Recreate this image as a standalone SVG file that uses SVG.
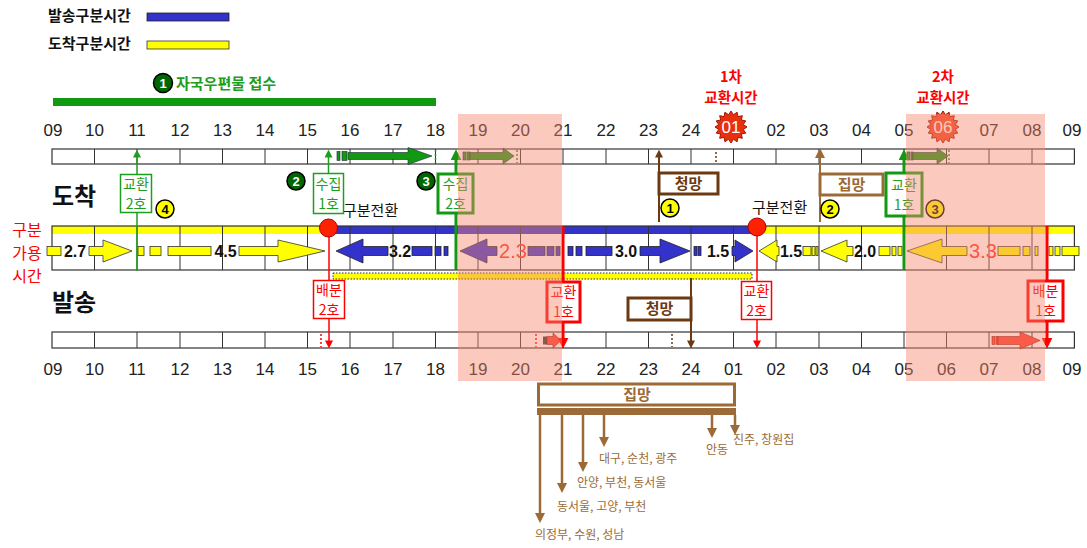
<svg xmlns="http://www.w3.org/2000/svg" xmlns:xlink="http://www.w3.org/1999/xlink" width="1087" height="548" viewBox="0 0 1087 548">
<style>
.hr{font-family:"Liberation Sans",Arial,sans-serif;font-size:17px;fill:#222;text-anchor:middle}
.kr{font-family:"Noto Sans CJK KR","Noto Sans CJK SC",sans-serif}
.num{font-family:"Liberation Sans",Arial,sans-serif;font-size:16px;font-weight:bold;fill:#111;text-anchor:middle}
.numr{font-family:"Liberation Sans",Arial,sans-serif;font-size:20px;fill:#ff2a1a;text-anchor:middle}
.bar{fill:#fff;stroke:#333;stroke-width:1.2}
.tick{stroke:#333;stroke-width:1;fill:none}
.ya{fill:#ffff00;stroke:#333;stroke-width:0.8}
.ba{fill:#3333cc;stroke:#222;stroke-width:0.8}
.ga{fill:#119911;stroke:#224;stroke-width:0.6}
.ra{fill:#ff3a2a;stroke:#700;stroke-width:0.6}
.dotg{stroke:#119911;stroke-width:1.5;stroke-dasharray:2,2}
.dotr{stroke:#ff0000;stroke-width:1.5;stroke-dasharray:2,2}
.dotb{stroke:#6b3a12;stroke-width:1.5;stroke-dasharray:2,2}
.bt{font-family:"Noto Sans CJK KR",sans-serif;font-size:14px;text-anchor:middle}
.bt2{font-family:"Noto Sans CJK KR",sans-serif;font-size:15px;font-weight:bold;text-anchor:middle}
.g{fill:#1e9e1e}
.r{fill:#ff0000}
.boxg{fill:#fff;stroke:#1e9e1e;stroke-width:1.5}
.boxG{fill:#fff;stroke:#119911;stroke-width:3}
.boxr{fill:#fff;stroke:#ff0000;stroke-width:1.5}
.boxR{fill:#fff;stroke:#ff0000;stroke-width:3}
.boxbd{fill:#fff;stroke:#6b3a12;stroke-width:3}
.boxbl{fill:#fff;stroke:#9c6a36;stroke-width:3}
.cg{fill:#006600;stroke:#000;stroke-width:1.5}
.cy{fill:#ffff00;stroke:#000;stroke-width:1.5}
.ct{font-family:"Liberation Sans",Arial,sans-serif;font-size:13px;font-weight:bold;text-anchor:middle}
.dest{font-family:"Noto Sans CJK KR",sans-serif;font-size:12px;fill:#9c6a36}
.ov{fill:#f7876c;opacity:0.45}
</style>
<defs>
<marker id="mGs" viewBox="0 0 10 10" refX="2" refY="5" markerWidth="8" markerHeight="8" orient="auto" markerUnits="userSpaceOnUse"><path d="M0,0 L10,5 L0,10 z" fill="#1e9e1e"/></marker>
<marker id="mGb" viewBox="0 0 10 10" refX="2" refY="5" markerWidth="11" markerHeight="11" orient="auto" markerUnits="userSpaceOnUse"><path d="M0,0 L10,5 L0,10 z" fill="#119911"/></marker>
<marker id="mRs" viewBox="0 0 10 10" refX="2" refY="5" markerWidth="8" markerHeight="8" orient="auto" markerUnits="userSpaceOnUse"><path d="M0,0 L10,5 L0,10 z" fill="#ff0000"/></marker>
<marker id="mRb" viewBox="0 0 10 10" refX="2" refY="5" markerWidth="11" markerHeight="11" orient="auto" markerUnits="userSpaceOnUse"><path d="M0,0 L10,5 L0,10 z" fill="#ff0000"/></marker>
<marker id="mBd" viewBox="0 0 10 10" refX="2" refY="5" markerWidth="8" markerHeight="8" orient="auto" markerUnits="userSpaceOnUse"><path d="M0,0 L10,5 L0,10 z" fill="#6b3a12"/></marker>
<marker id="mBl" viewBox="0 0 10 10" refX="2" refY="5" markerWidth="10" markerHeight="10" orient="auto" markerUnits="userSpaceOnUse"><path d="M0,0 L10,5 L0,10 z" fill="#9c6a36"/></marker>
<polygon id="star" points="16,0 12.26,2.44 14.78,6.12 10.39,6.94 11.31,11.31 6.94,10.39 6.12,14.78 2.44,12.26 0,16 -2.44,12.26 -6.12,14.78 -6.94,10.39 -11.31,11.31 -10.39,6.94 -14.78,6.12 -12.26,2.44 -16,0 -12.26,-2.44 -14.78,-6.12 -10.39,-6.94 -11.31,-11.31 -6.94,-10.39 -6.12,-14.78 -2.44,-12.26 0,-16 2.44,-12.26 6.12,-14.78 6.94,-10.39 11.31,-11.31 10.39,-6.94 14.78,-6.12 12.26,-2.44"/>
</defs>
<rect width="1087" height="548" fill="#fff"/>

<g id="legend">
<text class="kr" x="48" y="21" font-size="15" font-weight="bold" fill="#111">발송구분시간</text>
<rect x="147" y="13" width="82" height="8" class="ba"/>
<text class="kr" x="48" y="49" font-size="15" font-weight="bold" fill="#111">도착구분시간</text>
<rect x="147" y="41" width="82" height="8" class="ya"/>
</g>

<g id="header">
<circle cx="163" cy="83" r="9.5" class="cg"/>
<text class="ct" x="163" y="87.5" fill="#fff">1</text>
<text class="kr" x="176" y="89" font-size="15" font-weight="bold" fill="#1e9e1e">자국우편물 접수</text>
<rect x="53" y="98" width="383" height="8" fill="#119911"/>
</g>

<g id="titles">
<text class="kr" x="52" y="205" font-size="24" font-weight="bold" fill="#111">도착</text>
<text class="kr" x="52" y="311" font-size="24" font-weight="bold" fill="#111">발송</text>
<text class="kr" x="27" y="236" font-size="16" fill="#ff0000" text-anchor="middle">구분</text>
<text class="kr" x="27" y="259" font-size="16" fill="#ff0000" text-anchor="middle">가용</text>
<text class="kr" x="27" y="282" font-size="16" fill="#ff0000" text-anchor="middle">시간</text>
</g>

<g id="exchange-times">
<text class="kr" x="731" y="82" font-size="14.5" font-weight="bold" fill="#ff0000" text-anchor="middle">1차</text>
<text class="kr" x="731" y="103" font-size="14.5" font-weight="bold" fill="#ff0000" text-anchor="middle">교환시간</text>
<text class="kr" x="943" y="82" font-size="14.5" font-weight="bold" fill="#ff0000" text-anchor="middle">2차</text>
<text class="kr" x="943" y="103" font-size="14.5" font-weight="bold" fill="#ff0000" text-anchor="middle">교환시간</text>
<use xlink:href="#star" href="#star" transform="translate(731,127)" fill="#e8300e" stroke="#a01800" stroke-width="1"/>
<text class="hr" x="731" y="133" style="fill:#fff">01</text>
<use xlink:href="#star" href="#star" transform="translate(943,127)" fill="#f04422" stroke="#a01800" stroke-width="1"/>
<text class="hr" x="943" y="133" style="fill:#fff">06</text>
</g>

<g id="axis-top">
<text class="hr" x="53" y="136">09</text><text class="hr" x="94.5" y="136">10</text><text class="hr" x="137" y="136">11</text><text class="hr" x="180" y="136">12</text><text class="hr" x="222.5" y="136">13</text><text class="hr" x="265" y="136">14</text><text class="hr" x="307.5" y="136">15</text><text class="hr" x="350" y="136">16</text><text class="hr" x="393" y="136">17</text><text class="hr" x="435.5" y="136">18</text><text class="hr" x="478" y="136">19</text><text class="hr" x="520.5" y="136">20</text><text class="hr" x="563" y="136">21</text><text class="hr" x="606" y="136">22</text><text class="hr" x="648.5" y="136">23</text><text class="hr" x="691" y="136">24</text><text class="hr" x="776" y="136">02</text><text class="hr" x="819" y="136">03</text><text class="hr" x="861.5" y="136">04</text><text class="hr" x="904" y="136">05</text><text class="hr" x="989" y="136">07</text><text class="hr" x="1032" y="136">08</text><text class="hr" x="1072" y="136">09</text>
<rect x="52" y="149" width="1022.4" height="15" class="bar"/>
<path class="tick" d="M94.5,149V164M137,149V164M180,149V164M222.5,149V164M265,149V164M307.5,149V164M350,149V164M393,149V164M435.5,149V164M478,149V164M520.5,149V164M563,149V164M606,149V164M648.5,149V164M691,149V164M733.5,149V164M776,149V164M819,149V164M861.5,149V164M904,149V164M946.5,149V164M989,149V164M1032,149V164"/>
<rect x="337" y="151.5" width="3" height="9" class="ga"/><rect x="342" y="151.5" width="5" height="9" class="ga"/>
<polygon class="ga" points="348,152.5 408,152.5 408,147.5 432,156 408,164.5 408,159.5 348,159.5"/>
<line class="dotg" x1="435.5" y1="150" x2="435.5" y2="163"/>
<rect x="463" y="152" width="3" height="8" class="ga"/><rect x="467" y="152" width="3" height="8" class="ga"/>
<polygon class="ga" points="470,152.5 503,152.5 503,148 514,156 503,164 503,159.5 470,159.5"/>
<line class="dotg" x1="517" y1="150" x2="517" y2="163"/>
<line class="dotb" x1="716" y1="152" x2="716" y2="163"/>
<rect x="907" y="152" width="3" height="8" class="ga"/><rect x="911" y="152" width="2" height="8" class="ga"/>
<polygon class="ga" points="913,152.5 937,152.5 937,148 948,156 937,164 937,159.5 913,159.5"/>
<line class="dotg" x1="949" y1="150" x2="949" y2="163"/>
</g>

<g id="band">
<rect x="52" y="226" width="1022.4" height="44" fill="#fff"/>
<rect x="52" y="226" width="276" height="8" fill="#ffff00"/>
<rect x="328" y="226" width="429" height="8" fill="#3333cc"/>
<rect x="757" y="226" width="317.4" height="8" fill="#ffff00"/>
<path class="tick" d="M94.5,226V270M137,226V270M180,226V270M222.5,226V270M265,226V270M307.5,226V270M350,226V270M393,226V270M435.5,226V270M478,226V270M520.5,226V270M563,226V270M606,226V270M648.5,226V270M691,226V270M733.5,226V270M776,226V270M819,226V270M861.5,226V270M904,226V270M946.5,226V270M989,226V270M1032,226V270"/>
<rect x="52" y="226" width="1022.4" height="44" fill="none" stroke="#333" stroke-width="1.2"/>
<rect x="47" y="246.5" width="14" height="9" class="ya"/>
<text class="num" x="75" y="257">2.7</text>
<polygon class="ya" points="89,246.5 103,246.5 103,240 132,251 103,262 103,255.5 89,255.5"/>
<rect x="138" y="246.5" width="6" height="9" class="ya"/><rect x="150" y="246.5" width="11" height="9" class="ya"/>
<rect x="168" y="246.5" width="43" height="9" class="ya"/>
<text class="num" x="225.5" y="257">4.5</text>
<polygon class="ya" points="239,246.5 278,246.5 278,240 325,251 278,262 278,255.5 239,255.5"/>
<polygon class="ba" points="336,251 363,239 363,246.5 388,246.5 388,255.5 363,255.5 363,263"/>
<text class="num" x="400" y="257">3.2</text>
<rect x="412" y="246.5" width="20" height="9" class="ba"/><rect x="435" y="246.5" width="6" height="9" class="ba"/><rect x="444" y="246.5" width="4" height="9" class="ba"/>
<polygon class="ba" points="460,251 487,239 487,246.5 497,246.5 497,255.5 487,255.5 487,263"/>
<text class="numr" x="513" y="258">2.3</text>
<rect x="528" y="246.5" width="17" height="9" class="ba"/><rect x="547" y="246.5" width="7" height="9" class="ba"/><rect x="556" y="246.5" width="4" height="9" class="ba"/>
<rect x="568" y="246.5" width="5" height="9" class="ba"/><rect x="576" y="246.5" width="6" height="9" class="ba"/><rect x="586" y="246.5" width="26" height="9" class="ba"/>
<text class="num" x="626" y="257">3.0</text>
<polygon class="ba" points="640,246.5 660,246.5 660,239 690,251 660,263 660,255.5 640,255.5"/>
<rect x="694" y="246.5" width="3" height="9" class="ba"/><rect x="698" y="246.5" width="3" height="9" class="ba"/>
<text class="num" x="718" y="257">1.5</text>
<polygon class="ba" points="732,246.5 735,246.5 735,240 753,251 735,262 735,255.5 732,255.5"/>
<polygon class="ya" points="759,251 777,240 777,246.5 779,246.5 779,255.5 777,255.5 777,262"/>
<text class="num" x="791" y="257">1.5</text>
<rect x="803" y="246.5" width="8" height="9" class="ya"/><rect x="812" y="246.5" width="3" height="9" class="ya"/><rect x="816" y="246.5" width="2" height="9" class="ya"/>
<polygon class="ya" points="821,251 847,240 847,246.5 853,246.5 853,255.5 847,255.5 847,262"/>
<text class="num" x="865" y="257">2.0</text>
<rect x="879" y="246.5" width="11" height="9" class="ya"/><rect x="892" y="246.5" width="4" height="9" class="ya"/><rect x="898" y="246.5" width="4" height="9" class="ya"/>
<polygon class="ya" points="907,251 942,239 942,246.5 967,246.5 967,255.5 942,255.5 942,263"/>
<text class="numr" x="983" y="258">3.3</text>
<rect x="998" y="246.5" width="22" height="9" class="ya"/><rect x="1023" y="246.5" width="7" height="9" class="ya"/><rect x="1035" y="246.5" width="3" height="9" class="ya"/>
<rect x="1049" y="246.5" width="4" height="9" class="ya"/><rect x="1055" y="246.5" width="5" height="9" class="ya"/><rect x="1062" y="246.5" width="17" height="9" class="ya"/>
<rect x="333" y="273" width="419" height="6" fill="#ffff00" stroke="#333" stroke-width="1" stroke-dasharray="1.5,1.5"/>
</g>

<g id="axis-bottom">
<rect x="52" y="332" width="1022.4" height="16" class="bar"/>
<path class="tick" d="M94.5,332V348M137,332V348M180,332V348M222.5,332V348M265,332V348M307.5,332V348M350,332V348M393,332V348M435.5,332V348M478,332V348M520.5,332V348M563,332V348M606,332V348M648.5,332V348M691,332V348M733.5,332V348M776,332V348M819,332V348M861.5,332V348M904,332V348M946.5,332V348M989,332V348M1032,332V348"/>
<line class="dotr" x1="321" y1="334" x2="321" y2="347"/>
<line class="dotr" x1="536" y1="334" x2="536" y2="347"/>
<rect x="543" y="336.5" width="4" height="8" fill="#333"/>
<polygon class="ra" points="547,336.5 553,336.5 553,333 561,340.5 553,348 553,344.5 547,344.5"/>
<line class="dotb" x1="672" y1="334" x2="672" y2="347"/>
<rect x="992" y="336.5" width="3" height="8" class="ra"/><rect x="996" y="336.5" width="2" height="8" class="ra"/>
<polygon class="ra" points="998,336.5 1020,336.5 1020,332 1040,340.5 1020,349 1020,344.5 998,344.5"/>
<text class="hr" x="53" y="375">09</text><text class="hr" x="94.5" y="375">10</text><text class="hr" x="137" y="375">11</text><text class="hr" x="180" y="375">12</text><text class="hr" x="222.5" y="375">13</text><text class="hr" x="265" y="375">14</text><text class="hr" x="307.5" y="375">15</text><text class="hr" x="350" y="375">16</text><text class="hr" x="393" y="375">17</text><text class="hr" x="435.5" y="375">18</text><text class="hr" x="478" y="375">19</text><text class="hr" x="520.5" y="375">20</text><text class="hr" x="563" y="375">21</text><text class="hr" x="606" y="375">22</text><text class="hr" x="648.5" y="375">23</text><text class="hr" x="691" y="375">24</text><text class="hr" x="733.5" y="375">01</text><text class="hr" x="776" y="375">02</text><text class="hr" x="819" y="375">03</text><text class="hr" x="861.5" y="375">04</text><text class="hr" x="904" y="375">05</text><text class="hr" x="946.5" y="375">06</text><text class="hr" x="989" y="375">07</text><text class="hr" x="1032" y="375">08</text><text class="hr" x="1072" y="375">09</text>
</g>

<g id="connectors" fill="none">
<path d="M137,271V156" stroke="#1e9e1e" stroke-width="1.5" marker-end="url(#mGs)"/>
<path d="M328.5,174V156" stroke="#1e9e1e" stroke-width="1.5" marker-end="url(#mGs)"/>
<path d="M456,270V158" stroke="#119911" stroke-width="3" marker-end="url(#mGb)"/>
<path d="M659,222V156" stroke="#6b3a12" stroke-width="2" marker-end="url(#mBd)"/>
<path d="M820,222V156" stroke="#9c6a36" stroke-width="2" marker-end="url(#mBl)"/>
<path d="M904,270V158" stroke="#119911" stroke-width="3" marker-end="url(#mGb)"/>
<path d="M329,236V342" stroke="#ff0000" stroke-width="1.5" marker-end="url(#mRs)"/>
<path d="M563,226V340" stroke="#ff0000" stroke-width="3" marker-end="url(#mRb)"/>
<path d="M691,278V342" stroke="#6b3a12" stroke-width="2" marker-end="url(#mBd)"/>
<path d="M757,236V342" stroke="#ff0000" stroke-width="1.5" marker-end="url(#mRs)"/>
<path d="M1047,226V340" stroke="#ff0000" stroke-width="3" marker-end="url(#mRb)"/>
<path d="M540,415V515" stroke="#9c6a36" stroke-width="2.5" marker-end="url(#mBl)"/>
<path d="M562,415V485" stroke="#9c6a36" stroke-width="2.5" marker-end="url(#mBl)"/>
<path d="M583,415V464" stroke="#9c6a36" stroke-width="2.5" marker-end="url(#mBl)"/>
<path d="M604,415V439" stroke="#9c6a36" stroke-width="2.5" marker-end="url(#mBl)"/>
<path d="M712,415V430" stroke="#9c6a36" stroke-width="2.5" marker-end="url(#mBl)"/>
<path d="M735,415V427" stroke="#9c6a36" stroke-width="2.5" marker-end="url(#mBl)"/>
</g>

<g id="switch-points">
<circle cx="328.5" cy="228" r="9" fill="#ff2200" stroke="#a00" stroke-width="1"/>
<circle cx="757" cy="227" r="9" fill="#ff2200" stroke="#a00" stroke-width="1"/>
<text class="kr" x="343" y="216" font-size="15" fill="#111">구분전환</text>
<text class="kr" x="752" y="213" font-size="15" fill="#111">구분전환</text>
</g>

<g id="node-exchange2-in">
<rect class="boxg" x="120.5" y="174.5" width="31" height="38"/>
<text class="bt g" x="136" y="188.5">교환</text><text class="bt g" x="136" y="209">2호</text>
<circle cx="165" cy="209" r="9" class="cy"/><text class="ct" x="165" y="213.5" fill="#000">4</text>
</g>
<g id="node-collect1">
<rect class="boxg" x="313.5" y="173.5" width="30" height="40"/>
<text class="bt g" x="328.5" y="188.5">수집</text><text class="bt g" x="328.5" y="209">1호</text>
<circle cx="296" cy="181" r="9" class="cg"/><text class="ct" x="296" y="185.5" fill="#fff">2</text>
</g>
<g id="node-collect2">
<rect class="boxG" x="438" y="174" width="35" height="39"/>
<text class="bt g" x="455.5" y="188.5">수집</text><text class="bt g" x="455.5" y="209">2호</text>
<circle cx="426" cy="181" r="9" class="cg"/><text class="ct" x="426" y="185.5" fill="#fff">3</text>
</g>
<g id="node-cheongmang-in">
<rect class="boxbd" x="659" y="173" width="59" height="21"/>
<text class="bt2" x="688.5" y="189" fill="#6b3a12">청망</text>
<circle cx="670" cy="208" r="9" class="cy"/><text class="ct" x="670" y="212.5" fill="#000">1</text>
</g>
<g id="node-jipmang-in">
<rect class="boxbl" x="820" y="174" width="63" height="21"/>
<text class="bt2" x="851.5" y="190" fill="#9c6a36">집망</text>
<circle cx="830" cy="209" r="9" class="cy"/><text class="ct" x="830" y="213.5" fill="#000">2</text>
</g>
<g id="node-exchange1-in">
<rect class="boxG" x="886" y="173" width="36" height="43"/>
<text class="bt g" x="904" y="189.5">교환</text><text class="bt g" x="904" y="210">1호</text>
<circle cx="935" cy="209" r="9" class="cy"/><text class="ct" x="935" y="213.5" fill="#000">3</text>
</g>
<g id="node-dist2">
<rect class="boxr" x="313.5" y="280.5" width="31" height="38"/>
<text class="bt r" x="329" y="294.5">배분</text><text class="bt r" x="329" y="315">2호</text>
</g>
<g id="node-exchange1-out">
<rect class="boxR" x="547" y="282" width="33" height="40"/>
<text class="bt r" x="563.5" y="296.5">교환</text><text class="bt r" x="563.5" y="317">1호</text>
</g>
<g id="node-cheongmang-out">
<rect class="boxbd" x="628" y="298" width="63" height="22"/>
<text class="bt2" x="659.5" y="314" fill="#6b3a12">청망</text>
</g>
<g id="node-exchange2-out">
<rect class="boxr" x="741.5" y="281.5" width="30" height="38"/>
<text class="bt r" x="756.5" y="295.5">교환</text><text class="bt r" x="756.5" y="316">2호</text>
</g>
<g id="node-dist1">
<rect class="boxR" x="1028" y="281" width="35" height="40"/>
<text class="bt r" x="1045.5" y="295.5">배분</text><text class="bt r" x="1045.5" y="316">1호</text>
</g>

<g id="overlay">
<rect class="ov" x="458" y="114" width="104" height="267"/>
<rect class="ov" x="906" y="114" width="139" height="267"/>
</g>

<g id="node-jipmang-out">
<rect class="boxbl" x="538.5" y="384" width="196" height="21"/>
<text class="bt2" x="637" y="400" fill="#9c6a36">집망</text>
<rect x="537" y="408" width="199" height="7" fill="#9c6a36"/>
<text class="dest" x="535" y="539">의정부, 수원, 성남</text>
<text class="dest" x="557" y="511">동서울, 고양, 부천</text>
<text class="dest" x="577" y="487">안양, 부천, 동서울</text>
<text class="dest" x="599" y="463">대구, 순천, 광주</text>
<text class="dest" x="706" y="454">안동</text>
<text class="dest" x="733" y="444">진주, 창원집</text>
</g>
</svg>
